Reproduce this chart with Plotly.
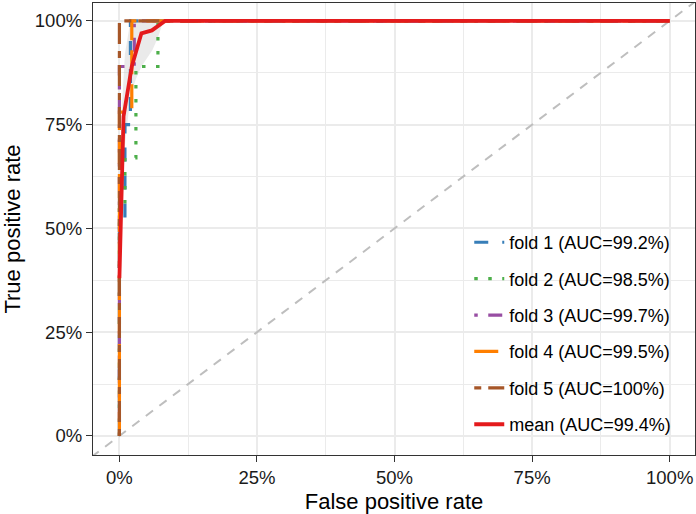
import plotly.graph_objects as go

# ---- data ----
fold_names = ["fold 1 (AUC=99.2%)", "fold 2 (AUC=98.5%)", "fold 3 (AUC=99.7%)",
              "fold 4 (AUC=99.5%)", "fold 5 (AUC=100%)"]
fold1_fpr = [0, 0, 0.01, 0.01, 0.02, 0.02, 1.0]
fold1_tpr = [0, 0.5, 0.5, 0.75, 0.75, 1.0, 1.0]
fold2_fpr = [0, 0, 0.01, 0.01, 0.03, 0.03, 0.07, 0.07, 1.0]
fold2_tpr = [0, 0.56, 0.56, 0.67, 0.67, 0.89, 0.89, 1.0, 1.0]
fold3_fpr = [0, 0, 0.027, 0.027, 1.0]
fold3_tpr = [0, 0.89, 0.89, 1.0, 1.0]
fold4_fpr = [0, 0, 0.0225, 0.0225, 1.0]
fold4_tpr = [0, 0.78, 0.78, 1.0, 1.0]
fold5_fpr = [0, 0, 1.0]
fold5_tpr = [0, 1.0, 1.0]

mean_name = "mean (AUC=99.4%)"
mean_fpr = [0, 0.0075, 0.0225, 0.04, 0.059, 0.083, 1.0]
mean_tpr = [0.38, 0.77, 0.89, 0.97, 0.977, 1.0, 1.0]

ribbon_fpr = [0, 0.005, 0.01, 0.02, 0.03, 0.04, 0.05, 0.06, 0.07, 0.08, 1.0]
ribbon_lower = [0.30, 0.55, 0.70, 0.82, 0.86, 0.89, 0.91, 0.93, 0.96, 1.0, 1.0]
ribbon_upper = [0.46, 0.80, 0.92, 1.0, 1.0, 1.0, 1.0, 1.0, 1.0, 1.0, 1.0]

chance_line = [-0.1, 1.1]

tick_vals = [0, 0.25, 0.5, 0.75, 1.0]

fold_colors = ["#377EB8", "#4DAF4A", "#984EA3", "#FF7F00", "#A65628"]
fold_dashes = ["14px,14px", "3.5px,10.5px", "3.5px,10.5px,14px,10.5px",
               "24px,10px", "7px,7px,21px,7px"]

fig = go.Figure()

# chance diagonal
fig.add_trace(go.Scatter(x=chance_line, y=chance_line, mode="lines",
                         line=dict(color="#BEBEBE", width=2, dash="9px,8px"),
                         showlegend=False, hoverinfo="skip"))

# ribbon
fig.add_trace(go.Scatter(x=ribbon_fpr, y=ribbon_lower, mode="lines",
                         line=dict(width=0), showlegend=False, hoverinfo="skip"))
fig.add_trace(go.Scatter(x=ribbon_fpr, y=ribbon_upper, mode="lines",
                         line=dict(width=0), fill="tonexty",
                         fillcolor="rgba(190,190,190,0.32)",
                         showlegend=False, hoverinfo="skip"))

folds = [(fold1_fpr, fold1_tpr), (fold2_fpr, fold2_tpr), (fold3_fpr, fold3_tpr),
         (fold4_fpr, fold4_tpr), (fold5_fpr, fold5_tpr)]
for i, ((fx, fy), name) in enumerate(zip(folds, fold_names)):
    fig.add_trace(go.Scatter(x=fx, y=fy, mode="lines", name=name,
                             legendgroup=f"g{i}",
                             line=dict(color=fold_colors[i], width=3.2,
                                       dash=fold_dashes[i])))

fig.add_trace(go.Scatter(x=mean_fpr, y=mean_tpr, mode="lines", name=mean_name,
                         legendgroup="gmean",
                         line=dict(color="#E41A1C", width=3.8)))

axis_common = dict(
    tickvals=tick_vals, tickformat=".0%",
    showgrid=True, gridcolor="#EBEBEB", gridwidth=1.8,
    minor=dict(dtick=0.125, tick0=0, showgrid=True, gridcolor="#EBEBEB",
               gridwidth=0.9),
    zeroline=False, automargin=False,
    showline=True, linecolor="#333333", linewidth=1.3, mirror=True,
    ticks="outside", ticklen=6, tickwidth=1.3, tickcolor="#333333",
    tickfont=dict(family="Liberation Sans, Arial, sans-serif", size=18.5,
                  color="#1A1A1A"),
)

fig.update_layout(
    width=696, height=514,
    margin=dict(l=93, r=1, t=3, b=59),
    paper_bgcolor="white", plot_bgcolor="white",
    font=dict(family="Liberation Sans, Arial, sans-serif", color="black"),
    xaxis=dict(range=[-0.048, 1.046],
               title=dict(text="False positive rate",
                          font=dict(size=22, color="black"), standoff=6),
               **axis_common),
    yaxis=dict(range=[-0.046, 1.043],
               title=dict(text="True positive rate",
                          font=dict(size=22, color="black"), standoff=8),
               **axis_common),
    legend=dict(x=0.625, y=0.511, xanchor="left", yanchor="top",
                bgcolor="rgba(0,0,0,0)", borderwidth=0,
                font=dict(size=18, color="black"),
                tracegroupgap=10, traceorder="grouped"),
    showlegend=True,
)

fig.write_html("out.html",
               config={"displayModeBar": False},
               post_script="document.body.style.margin='0px';"
                           "document.body.style.padding='0px';"
                           "document.body.style.overflow='hidden';")
